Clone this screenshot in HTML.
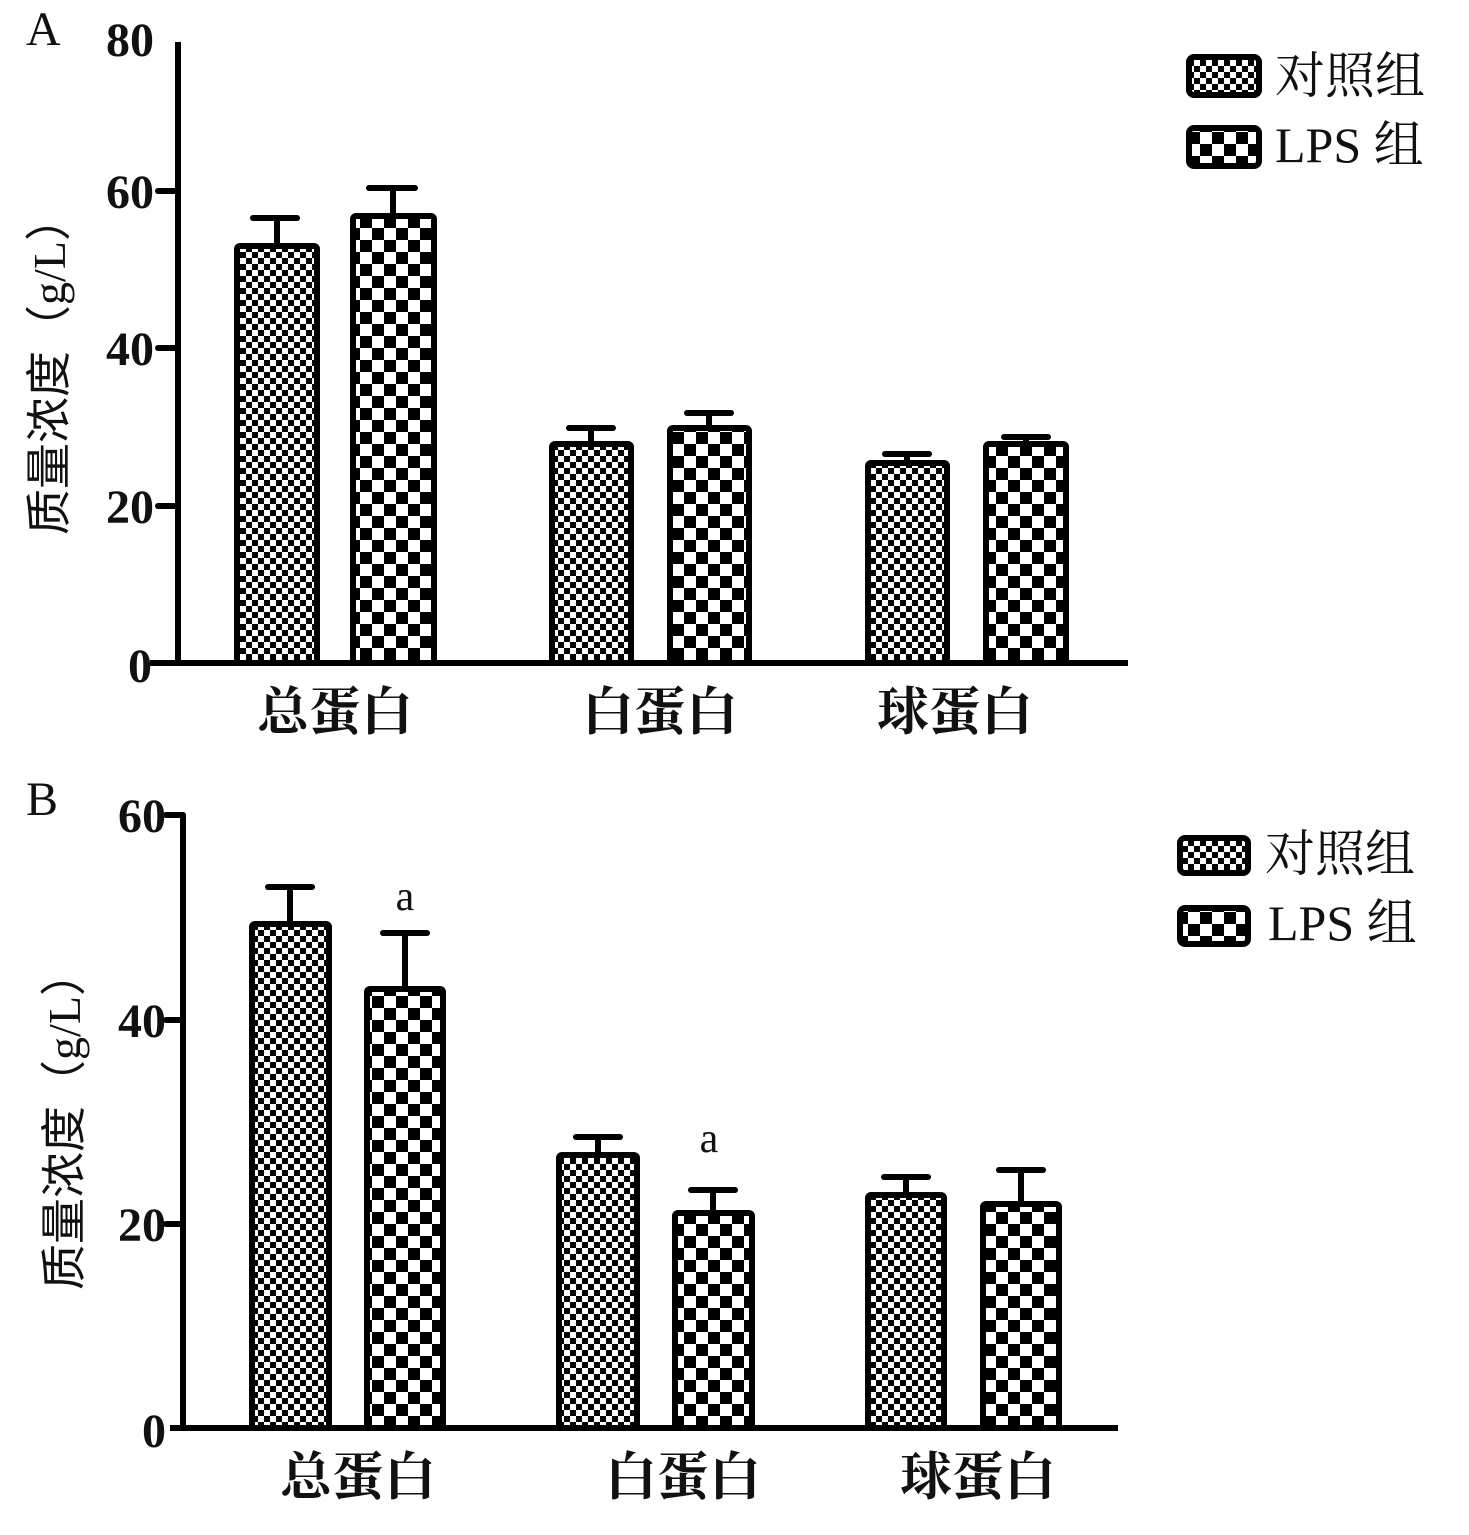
<!DOCTYPE html>
<html><head><meta charset="utf-8"><style>
html,body{margin:0;padding:0;background:#fff}
svg{display:block}
text{font-family:"Liberation Serif","Noto Serif CJK SC",serif;fill:#111}
.cj{font-family:"Liberation Sans","Noto Sans CJK SC",sans-serif;font-weight:bold}
.cs{font-family:"Liberation Serif","Noto Serif CJK SC",serif;font-weight:normal}
.yl{font-family:"Liberation Serif","Noto Sans CJK SC",sans-serif;font-weight:normal}
</style></head><body>
<svg width="1469" height="1535" viewBox="0 0 1469 1535" xmlns="http://www.w3.org/2000/svg">
<defs>
<pattern id="s" width="12" height="12" patternUnits="userSpaceOnUse">
<rect width="12" height="12" fill="#fff"/><rect width="6" height="6" fill="#000"/><rect x="6" y="6" width="6" height="6" fill="#000"/></pattern>
<pattern id="b" width="24" height="24" patternUnits="userSpaceOnUse">
<rect width="24" height="24" fill="#fff"/><rect width="12" height="12" fill="#000"/><rect x="12" y="12" width="12" height="12" fill="#000"/></pattern>
</defs>
<g stroke="#000" stroke-width="6" fill="none" stroke-linecap="round">
<line x1="178" y1="42" x2="178" y2="663" stroke-linecap="butt"/>
<line x1="150" y1="663" x2="1128" y2="663" stroke-linecap="butt"/>
<line x1="158" y1="191" x2="178" y2="191"/><line x1="158" y1="348" x2="178" y2="348"/><line x1="158" y1="506" x2="178" y2="506"/>
<line x1="277" y1="245" x2="277" y2="218"/><line x1="253" y1="218" x2="297" y2="218"/>
<line x1="393" y1="215" x2="393" y2="188"/><line x1="369" y1="188" x2="415" y2="188"/>
<line x1="591" y1="443" x2="591" y2="428"/><line x1="569" y1="428" x2="613" y2="428"/>
<line x1="709" y1="427" x2="709" y2="413"/><line x1="687" y1="413" x2="731" y2="413"/>
<line x1="907" y1="462" x2="907" y2="454"/><line x1="885" y1="454" x2="929" y2="454"/>
<line x1="1026" y1="443" x2="1026" y2="437"/><line x1="1004" y1="437" x2="1048" y2="437"/>
</g>
<g stroke="#000" stroke-width="6">
<rect x="237" y="246" width="80" height="417" rx="3" fill="url(#s)"/>
<rect x="353" y="216" width="81" height="447" rx="3" fill="url(#b)"/>
<rect x="552" y="444" width="79" height="219" rx="3" fill="url(#s)"/>
<rect x="670" y="428" width="79" height="235" rx="3" fill="url(#b)"/>
<rect x="868" y="463" width="79" height="200" rx="3" fill="url(#s)"/>
<rect x="986" y="444" width="80" height="219" rx="3" fill="url(#b)"/>
<rect x="1189" y="57" width="70" height="38" rx="5" fill="url(#s)"/>
<rect x="1189" y="128" width="70" height="38" rx="5" fill="url(#b)"/>
</g>
<text x="26" y="45" font-size="48">A</text>
<g font-size="48" font-weight="bold" text-anchor="end">
<text x="154" y="56">80</text><text x="154" y="208">60</text><text x="154" y="365">40</text><text x="154" y="523">20</text><text x="152" y="682">0</text>
</g>
<text class="yl" transform="translate(65,365) rotate(-90)" font-size="46" text-anchor="middle">质量浓度（g/L）</text>
<g class="cj" font-size="52" text-anchor="middle">
<text x="335" y="730">总蛋白</text><text x="660" y="730">白蛋白</text><text x="955" y="730">球蛋白</text>
</g>
<text class="cs" x="1275" y="93" font-size="50">对照组</text>
<text x="1275" y="162" font-size="50">LPS <tspan class="cs">组</tspan></text>

<g stroke="#000" stroke-width="6" fill="none" stroke-linecap="round">
<line x1="183" y1="815" x2="183" y2="1428" stroke-linecap="butt"/>
<line x1="170" y1="1428" x2="1118" y2="1428" stroke-linecap="butt"/>
<line x1="166" y1="815" x2="183" y2="815"/><line x1="166" y1="1020" x2="183" y2="1020"/><line x1="166" y1="1224" x2="183" y2="1224"/>
<line x1="290" y1="923" x2="290" y2="887"/><line x1="268" y1="887" x2="312" y2="887"/>
<line x1="405" y1="988" x2="405" y2="933"/><line x1="383" y1="933" x2="427" y2="933"/>
<line x1="598" y1="1154" x2="598" y2="1137"/><line x1="576" y1="1137" x2="620" y2="1137"/>
<line x1="713" y1="1212" x2="713" y2="1190"/><line x1="691" y1="1190" x2="735" y2="1190"/>
<line x1="906" y1="1194" x2="906" y2="1177"/><line x1="884" y1="1177" x2="928" y2="1177"/>
<line x1="1021" y1="1203" x2="1021" y2="1170"/><line x1="999" y1="1170" x2="1043" y2="1170"/>
</g>
<g stroke="#000" stroke-width="6">
<rect x="252" y="924" width="77" height="504" rx="3" fill="url(#s)"/>
<rect x="367" y="989" width="76" height="439" rx="3" fill="url(#b)"/>
<rect x="559" y="1155" width="78" height="273" rx="3" fill="url(#s)"/>
<rect x="675" y="1213" width="77" height="215" rx="3" fill="url(#b)"/>
<rect x="868" y="1195" width="76" height="233" rx="3" fill="url(#s)"/>
<rect x="983" y="1204" width="76" height="224" rx="3" fill="url(#b)"/>
<rect x="1180" y="838" width="68" height="35" rx="5" fill="url(#s)"/>
<rect x="1180" y="908" width="68" height="36" rx="5" fill="url(#b)"/>
</g>
<text x="26" y="815" font-size="48">B</text>
<g font-size="48" font-weight="bold" text-anchor="end">
<text x="166" y="832">60</text><text x="166" y="1037">40</text><text x="166" y="1241">20</text><text x="166" y="1447">0</text>
</g>
<text class="yl" transform="translate(80,1120) rotate(-90)" font-size="46" text-anchor="middle">质量浓度（g/L）</text>
<g class="cj" font-size="52" text-anchor="middle">
<text x="358" y="1495">总蛋白</text><text x="683" y="1495">白蛋白</text><text x="978" y="1495">球蛋白</text>
</g>
<text x="405" y="910" font-size="42" text-anchor="middle">a</text>
<text x="709" y="1152" font-size="42" text-anchor="middle">a</text>
<text class="cs" x="1265" y="871" font-size="50">对照组</text>
<text x="1268" y="940" font-size="50">LPS <tspan class="cs">组</tspan></text>
</svg>
</body></html>
